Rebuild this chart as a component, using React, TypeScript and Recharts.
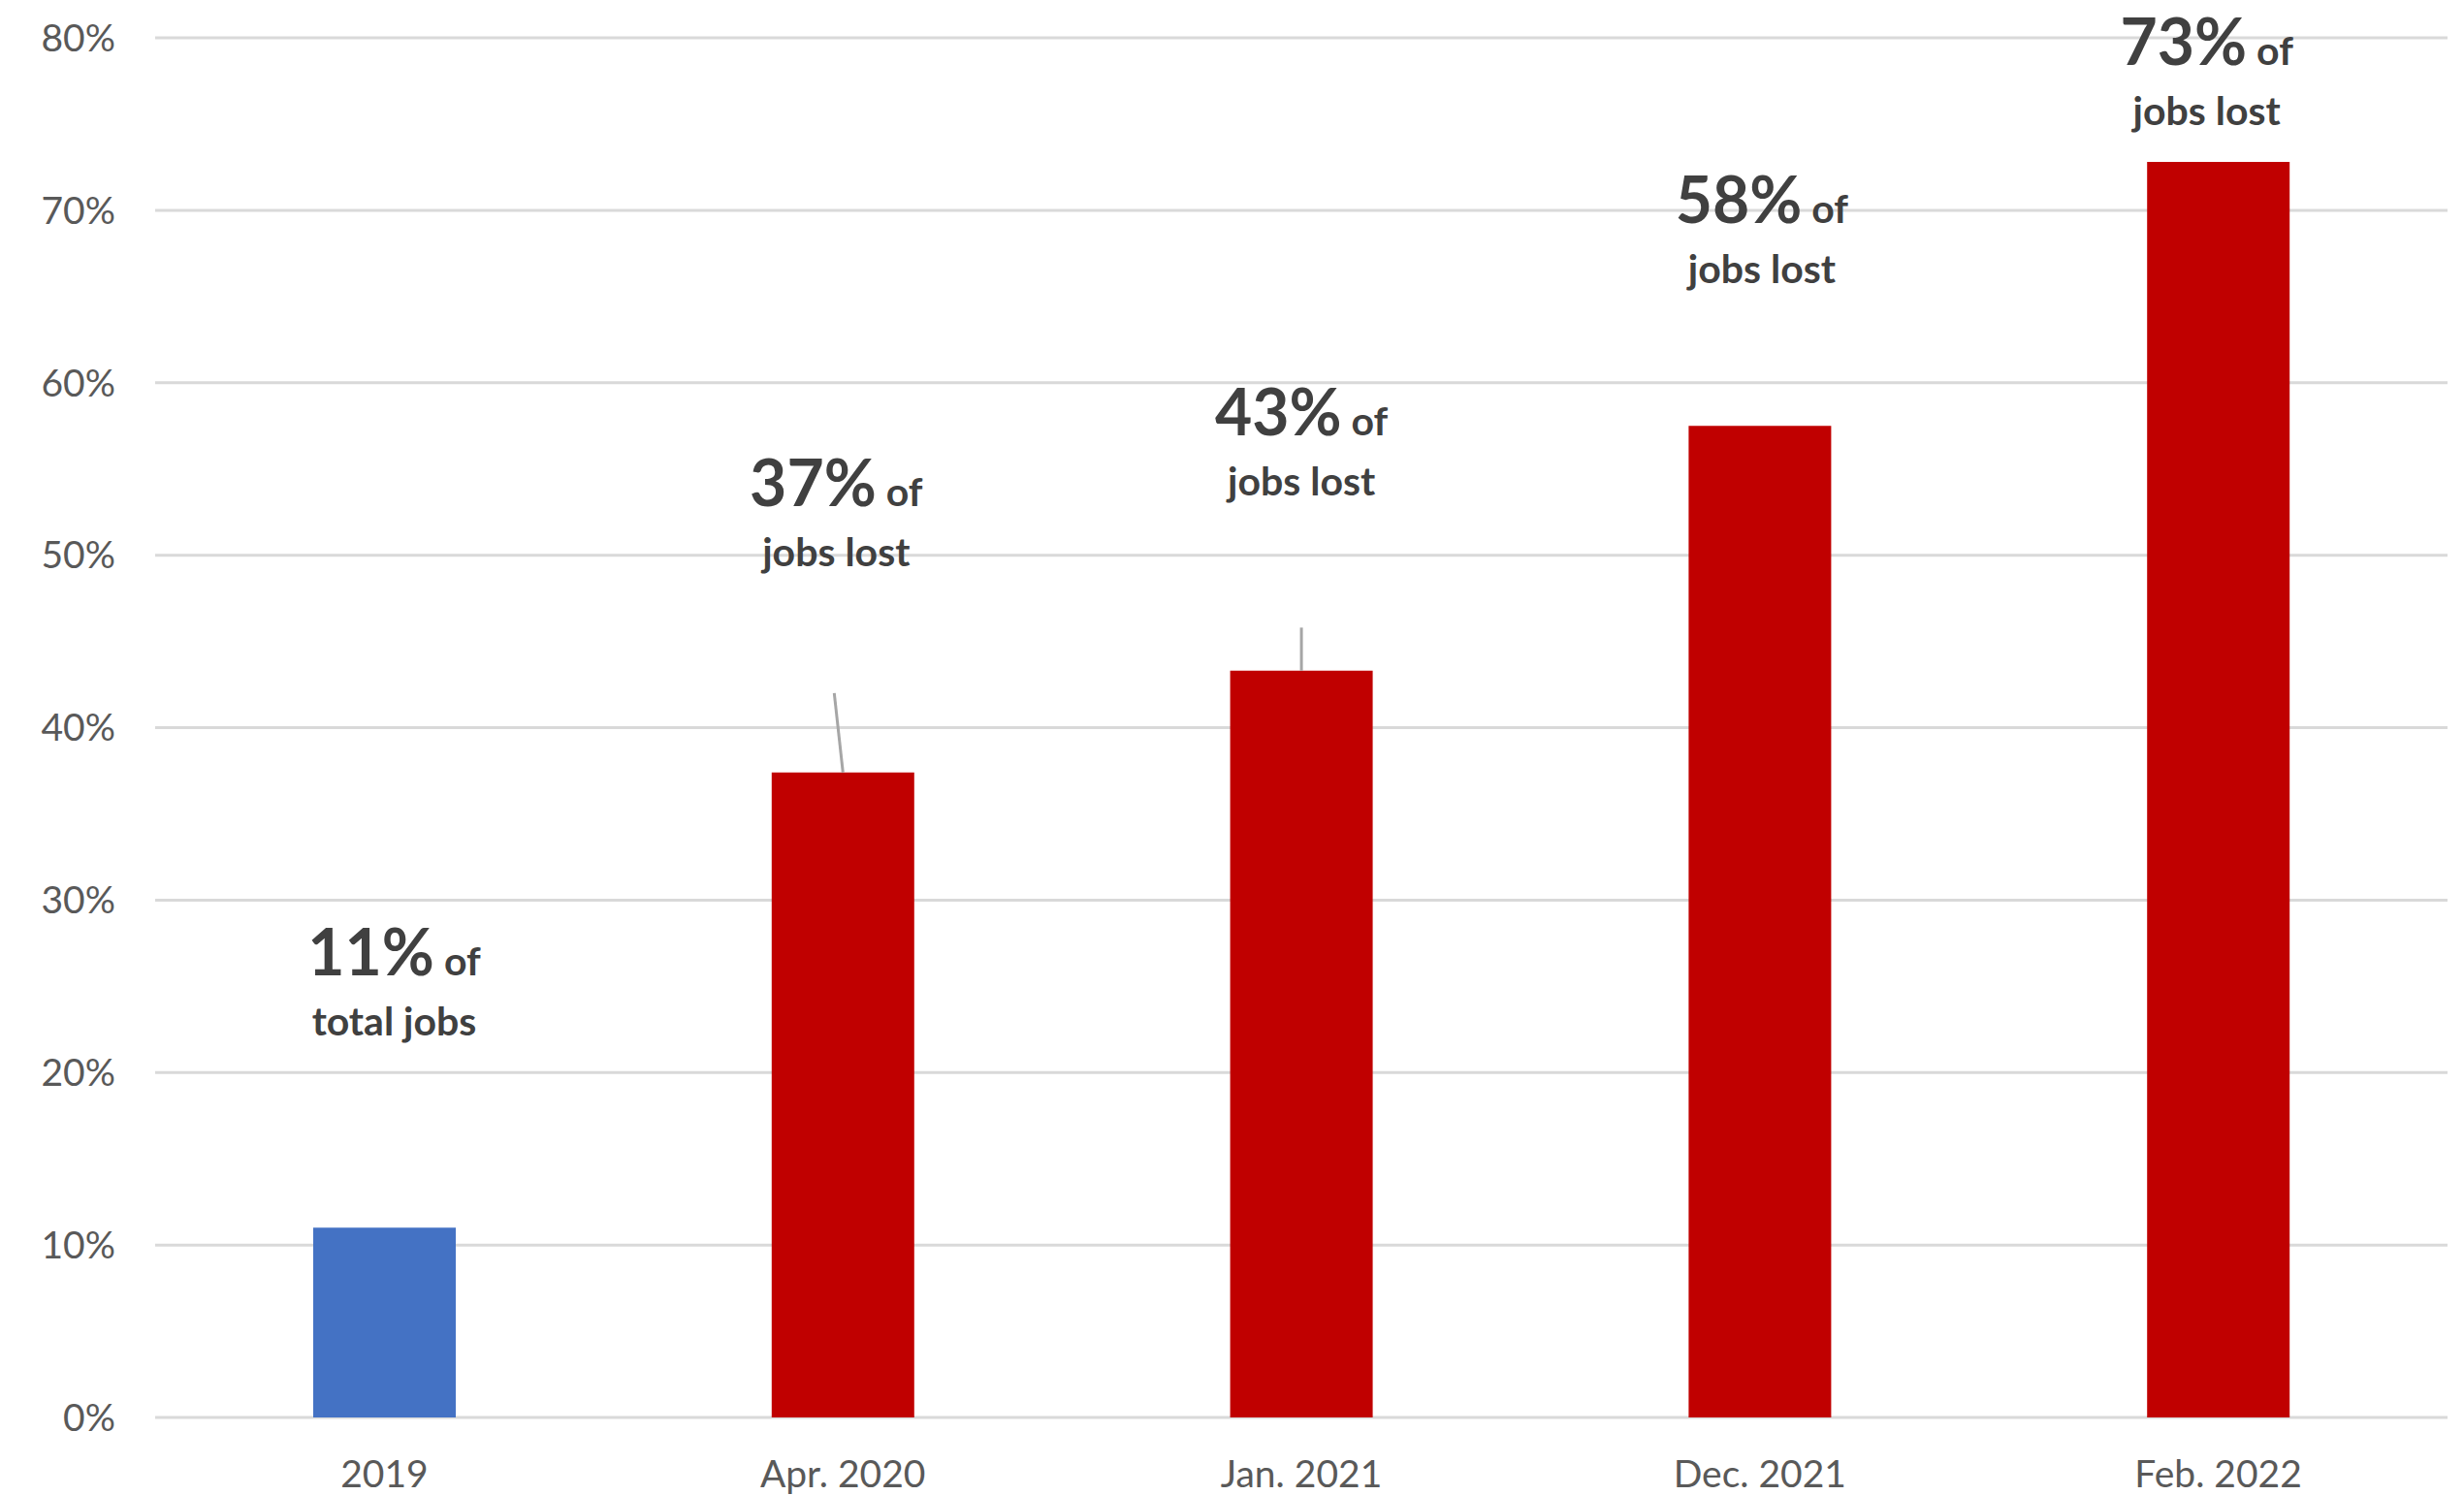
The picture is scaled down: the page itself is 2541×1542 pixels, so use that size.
import React from 'react';
import { BarChart, Bar, XAxis, YAxis, CartesianGrid, Cell, LabelList } from 'recharts';

const categories = ['2019', 'Apr. 2020', 'Jan. 2021', 'Dec. 2021', 'Feb. 2022'];
const shares = [11.0, 37.4, 43.3, 57.5, 72.8];
const barColors = ['#4472C4', '#C00000', '#C00000', '#C00000', '#C00000'];
const yTicks = [0, 10, 20, 30, 40, 50, 60, 70, 80];

const annotationBig = ['11%', '37%', '43%', '58%', '73%'];
const annotationLine2 = ['total jobs', 'jobs lost', 'jobs lost', 'jobs lost', 'jobs lost'];
// level (in % units on the y axis) where each callout's big figure is centred
const annotationAt = [27.0, 54.2, 58.3, 70.6, 79.8];
const annotationShift = [10, -7, 0, 2, -12];
// level (in % units) where the leader line starts, if any
const leaderFrom: (number | null)[] = [null, 42.0, 45.8, null, null];
const leaderShift = [0, -9, 0, 0, 0];

const data = categories.map((cat, i) => ({ cat, share: shares[i] }));

const FONT = "Lato, 'Open Sans', sans-serif";

const renderAnnotation = (props: any) => {
  const { x, y, width, height, value } = props;
  const i = categories.indexOf(value);
  if (i < 0) return null;
  const nx = Number(x), ny = Number(y), nw = Number(width), nh = Number(height);
  const base = ny + nh;
  const ppu = nh / shares[i];
  const cx = nx + nw / 2;
  const ay = base - annotationAt[i] * ppu;
  const tx = cx + annotationShift[i];
  const lf = leaderFrom[i];
  return (
    <g>
      {lf != null && (
        <line x1={cx + leaderShift[i]} y1={base - lf * ppu} x2={cx} y2={ny} stroke="#a6a6a6" strokeWidth={3} />
      )}
      <text x={tx} y={ay + 24} textAnchor="middle" fill="#404040" fontFamily={FONT} fontWeight={700}>
        <tspan fontSize={66}>{annotationBig[i]}</tspan>
        <tspan fontSize={41}>{' of'}</tspan>
      </text>
      <text x={tx} y={ay + 86} textAnchor="middle" fill="#404040" fontFamily={FONT} fontWeight={700} fontSize={41}>
        {annotationLine2[i]}
      </text>
    </g>
  );
};

export default function App() {
  return (
    <div style={{ position: 'absolute', left: 0, top: 0, width: 2541, height: 1542, background: '#ffffff' }}>
      <BarChart width={2541} height={1542} data={data} margin={{ top: 39, right: 17, bottom: 0, left: 0 }}>
        <CartesianGrid vertical={false} stroke="#d9d9d9" strokeWidth={3} />
        <XAxis
          dataKey="cat"
          height={80}
          axisLine={false}
          tickLine={false}
          tickSize={0}
          tickMargin={44}
          tick={{ fill: '#595959', fontSize: 39, fontFamily: FONT }}
        />
        <YAxis
          width={160}
          domain={[0, 80]}
          ticks={yTicks}
          axisLine={false}
          tickLine={false}
          tickSize={0}
          tickMargin={41}
          tickFormatter={(v: number) => `${v}%`}
          tick={{ fill: '#595959', fontSize: 39, fontFamily: FONT }}
        />
        <Bar dataKey="share" barSize={147} isAnimationActive={false}>
          {data.map((d, i) => (
            <Cell key={d.cat} fill={barColors[i]} />
          ))}
          <LabelList dataKey="cat" content={renderAnnotation} />
        </Bar>
      </BarChart>
    </div>
  );
}
